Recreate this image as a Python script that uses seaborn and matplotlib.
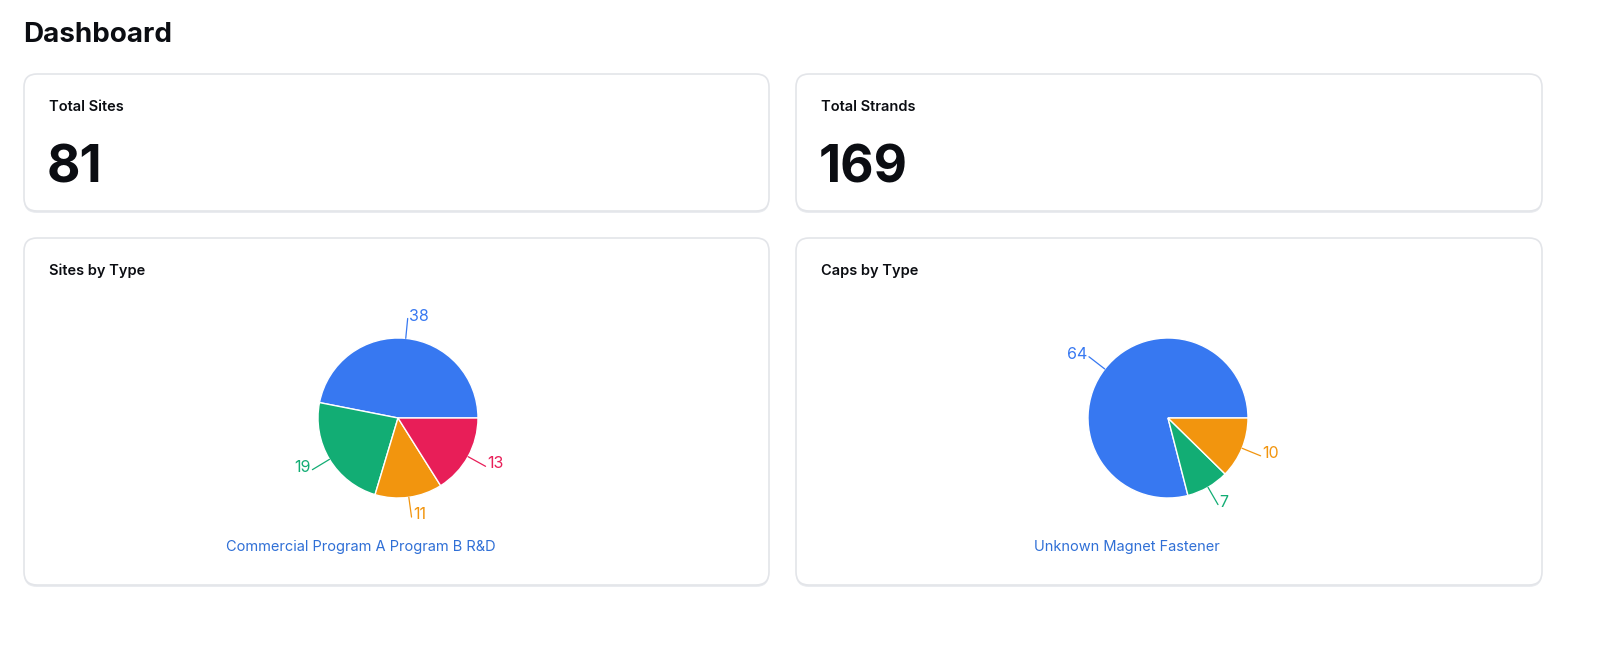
import numpy as np
import matplotlib.pyplot as plt
import seaborn as sns
from matplotlib.patches import FancyBboxPatch

# values
total_sites = 81
total_strands = 169

site_types = ['Commercial', 'Program A', 'Program B', 'R&D']
site_counts = [38, 19, 11, 13]

cap_types = ['Unknown', 'Magnet', 'Fastener']
cap_counts = [64, 7, 10]

palette = ['#3778f1', '#12ad74', '#f2950e', '#e81e58']
legend_blue = '#2f6fd6'
ink = '#0b0d12'

sns.set_theme(style='white')
plt.rcParams['font.family'] = ['Inter', 'DejaVu Sans']

W, H = 1600, 665
fig = plt.figure(figsize=(W / 100, H / 100), dpi=100)
fig.patch.set_facecolor('white')

# background axes in pixel coordinates (y down)
bg = fig.add_axes([0, 0, 1, 1])
bg.set_xlim(0, W)
bg.set_ylim(H, 0)
bg.axis('off')


def card(x0, y0, x1, y1):
    shadow = FancyBboxPatch((x0, y0 + 2), x1 - x0, y1 - y0,
                            boxstyle='round,pad=0,rounding_size=13',
                            fc='#e9ebef', ec='none', zorder=1)
    box = FancyBboxPatch((x0, y0), x1 - x0, y1 - y0,
                         boxstyle='round,pad=0,rounding_size=13',
                         fc='white', ec='#e3e5e9', lw=1.2, zorder=2)
    bg.add_patch(shadow)
    bg.add_patch(box)


bg.text(23, 35, 'Dashboard', fontsize=20, fontweight='bold', color=ink,
        ha='left', va='center')

left_x = (24, 769)
right_x = (796, 1542)
top_y = (74, 211)
bot_y = (238, 585)

card(left_x[0], top_y[0], left_x[1], top_y[1])
card(right_x[0], top_y[0], right_x[1], top_y[1])
card(left_x[0], bot_y[0], left_x[1], bot_y[1])
card(right_x[0], bot_y[0], right_x[1], bot_y[1])

for x0, title, val in [(left_x[0], 'Total Sites', total_sites),
                       (right_x[0], 'Total Strands', total_strands)]:
    bg.text(x0 + 25, 107, title, fontsize=10.5, fontweight='semibold',
            color=ink, ha='left', va='center', zorder=3)
    bg.text(x0 + 23, 169, str(val), fontsize=37, fontweight='bold',
            color=ink, ha='left', va='center', zorder=3)

bg.text(left_x[0] + 25, 271, 'Sites by Type', fontsize=10.5,
        fontweight='semibold', color=ink, ha='left', va='center', zorder=3)
bg.text(right_x[0] + 25, 271, 'Caps by Type', fontsize=10.5,
        fontweight='semibold', color=ink, ha='left', va='center', zorder=3)


def pie(cx, cy, values, colors):
    size = 320
    ax = fig.add_axes([(cx - size / 2) / W, (H - cy - size / 2) / H,
                       size / W, size / H])
    lim = size / 2 / 80
    ax.pie(values, colors=colors, startangle=0, counterclock=True,
           wedgeprops=dict(edgecolor='white', linewidth=1.0))
    ax.set_xlim(-lim, lim)
    ax.set_ylim(-lim, lim)
    ax.set_aspect('equal')
    ax.axis('off')
    vals = np.array(values, dtype=float)
    ends = np.cumsum(vals) / vals.sum() * 360
    mids = np.deg2rad(ends - vals / vals.sum() * 180)
    for v, a, c in zip(values, mids, colors):
        ca, sa = np.cos(a), np.sin(a)
        ax.plot([ca * 1.0, ca * 1.25], [sa * 1.0, sa * 1.25], color=c, lw=0.9)
        ha = 'left' if ca >= 0 else 'right'
        ax.text(ca * 1.25 + (0.02 if ca >= 0 else -0.02), sa * 1.25 + 0.03,
                str(v), color=c, fontsize=11.5, ha=ha, va='center')
    return ax


pie(398, 418, site_counts, palette[:4])
pie(1168, 418, cap_counts, palette[:3])

bg.text((left_x[0] + left_x[1]) / 2 - 36, 547, ' '.join(site_types),
        fontsize=10.5, color=legend_blue, ha='center', va='center', zorder=3)
bg.text((right_x[0] + right_x[1]) / 2 - 42, 547, ' '.join(cap_types),
        fontsize=10.5, color=legend_blue, ha='center', va='center', zorder=3)

fig.savefig('out.png', dpi=100, facecolor='white')
